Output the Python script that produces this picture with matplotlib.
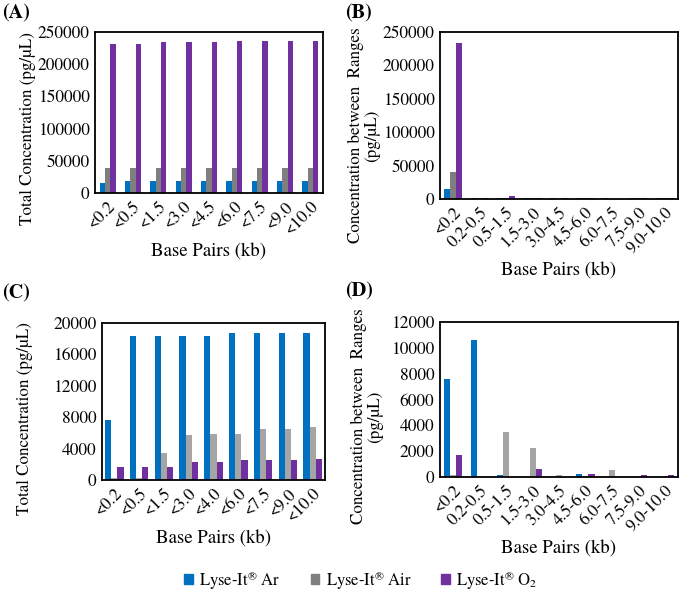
import matplotlib
matplotlib.use("Agg")
import matplotlib.pyplot as plt
import numpy as np
from matplotlib.patches import Patch

plt.rcParams['font.family'] = ['TeX Gyre Termes', 'STIX Two Text', 'DejaVu Serif']
plt.rcParams['mathtext.fontset'] = 'custom'
plt.rcParams['mathtext.rm'] = 'TeX Gyre Termes'
plt.rcParams['mathtext.it'] = 'TeX Gyre Termes:italic'
plt.rcParams['mathtext.bf'] = 'TeX Gyre Termes:bold'

# ---- data ----
cats_A = ["<0.2", "<0.5", "<1.5", "<3.0", "<4.5", "<6.0", "<7.5", "<9.0", "<10.0"]
A_ar = [15000, 18000, 18000, 18000, 18000, 18000, 18000, 18000, 18000]
A_air = [39000, 39000, 39000, 39000, 39000, 39000, 39000, 39000, 39000]
A_o2 = [231000, 231000, 234000, 234000, 234000, 236000, 236000, 236000, 236000]

cats_B = ["<0.2", "0.2-0.5", "0.5-1.5", "1.5-3.0", "3.0-4.5", "4.5-6.0", "6.0-7.5", "7.5-9.0", "9.0-10.0"]
B_ar = [15000, 2000, 2000, 2000, 2000, 2000, 2000, 2000, 2000]
B_air = [40000, 0, 2000, 2000, 0, 2000, 0, 2000, 2000]
B_o2 = [233000, 2000, 4000, 2000, 2000, 2000, 0, 2000, 2000]

cats_C = ["<0.2", "<0.5", "<1.5", "<3.0", "<4.0", "<6.0", "<7.5", "<9.0", "<10.0"]
C_ar = [7600, 18300, 18300, 18300, 18300, 18700, 18700, 18700, 18700]
C_air = [200, 200, 3400, 5700, 5900, 5900, 6500, 6500, 6700]
C_o2 = [1700, 1700, 1700, 2300, 2300, 2500, 2500, 2500, 2700]

cats_D = ["<0.2", "0.2-0.5", "0.5-1.5", "1.5-3.0", "3.0-4.5", "4.5-6.0", "6.0-7.5", "7.5-9.0", "9.0-10.0"]
D_ar = [7600, 10600, 150, 0, 0, 250, 0, 0, 0]
D_air = [150, 0, 3500, 2250, 150, 100, 550, 100, 100]
D_o2 = [1700, 0, 0, 650, 0, 250, 0, 150, 150]

labels = [r"Lyse-It$^{\circledR}$ Ar", r"Lyse-It$^{\circledR}$ Air", r"Lyse-It$^{\circledR}$ O$_{2}$"]

BLUE = "#0070C0"
GRAY_DARK = "#7F7F7F"
GRAY_LIGHT = "#A5A5A5"
PURPLE = "#7030A0"

W, H = 681, 595
fig = plt.figure(figsize=(W/100, H/100), dpi=100)

def box(x0, y0, x1, y1):
    return [x0/W, 1 - y1/H, (x1-x0)/W, (y1-y0)/H]

def panel(rect, cats, s1, s2, s3, gray, ymax, yticks, ylabel, tag, tagpos, ylab_xy, w=0.23):
    ax = fig.add_axes(box(*rect))
    x = np.arange(len(cats))
    ax.bar(x - w, s1, w, color=BLUE)
    ax.bar(x, s2, w, color=gray)
    ax.bar(x + w, s3, w, color=PURPLE)
    ax.set_xlim(-0.5, len(cats) - 0.5)
    ax.set_ylim(0, ymax)
    ax.set_yticks(yticks)
    ax.set_yticklabels([str(t) for t in yticks], fontsize=12.5)
    ax.set_xticks(x)
    ax.set_xticklabels(cats, rotation=45, ha='right', rotation_mode='anchor', fontsize=12.5)
    ax.tick_params(length=0, pad=4)
    for s in ax.spines.values():
        s.set_linewidth(1.3)
        s.set_color('black')
    ax.set_xlabel("Base Pairs (kb)", fontsize=13.5)
    ax.set_ylabel(ylabel, fontsize=12.3, linespacing=1.0)
    ax.yaxis.set_label_coords(*ylab_xy)
    fig.text(tagpos[0]/W, 1 - tagpos[1]/H, tag, fontsize=14.5, fontweight='bold', va='center', ha='left')
    return ax

panel((95, 32, 323, 193), cats_A, A_ar, A_air, A_o2, GRAY_DARK, 250000,
      [0, 50000, 100000, 150000, 200000, 250000], "Total Concentration (pg/µL)", "(A)", (2, 13),
      (-0.26, 0.40), w=0.21)
panel((440, 32, 678, 199), cats_B, B_ar, B_air, B_o2, GRAY_DARK, 250000,
      [0, 50000, 100000, 150000, 200000, 250000], "Concentration between  Ranges\n(pg/µL)", "(B)", (345, 13),
      (-0.25, 0.38), w=0.23)
panel((102, 323, 325, 480), cats_C, C_ar, C_air, C_o2, GRAY_LIGHT, 20000,
      [0, 4000, 8000, 12000, 16000, 20000], "Total Concentration (pg/µL)", "(C)", (2, 293),
      (-0.31, 0.39), w=0.25)
panel((440, 322, 678, 477), cats_D, D_ar, D_air, D_o2, GRAY_LIGHT, 12000,
      [0, 2000, 4000, 6000, 8000, 10000, 12000], "Concentration between  Ranges\n(pg/µL)", "(D)", (345, 291),
      (-0.24, 0.39), w=0.23)

handles = [Patch(color=BLUE), Patch(color=GRAY_DARK), Patch(color=PURPLE)]
fig.legend(handles, labels, loc='center', bbox_to_anchor=(361/W, 1 - 580/H), ncol=3,
           frameon=False, fontsize=12, handlelength=0.5, handleheight=0.5,
           columnspacing=1.8, handletextpad=0.4)

fig.savefig("out.png", dpi=100)
